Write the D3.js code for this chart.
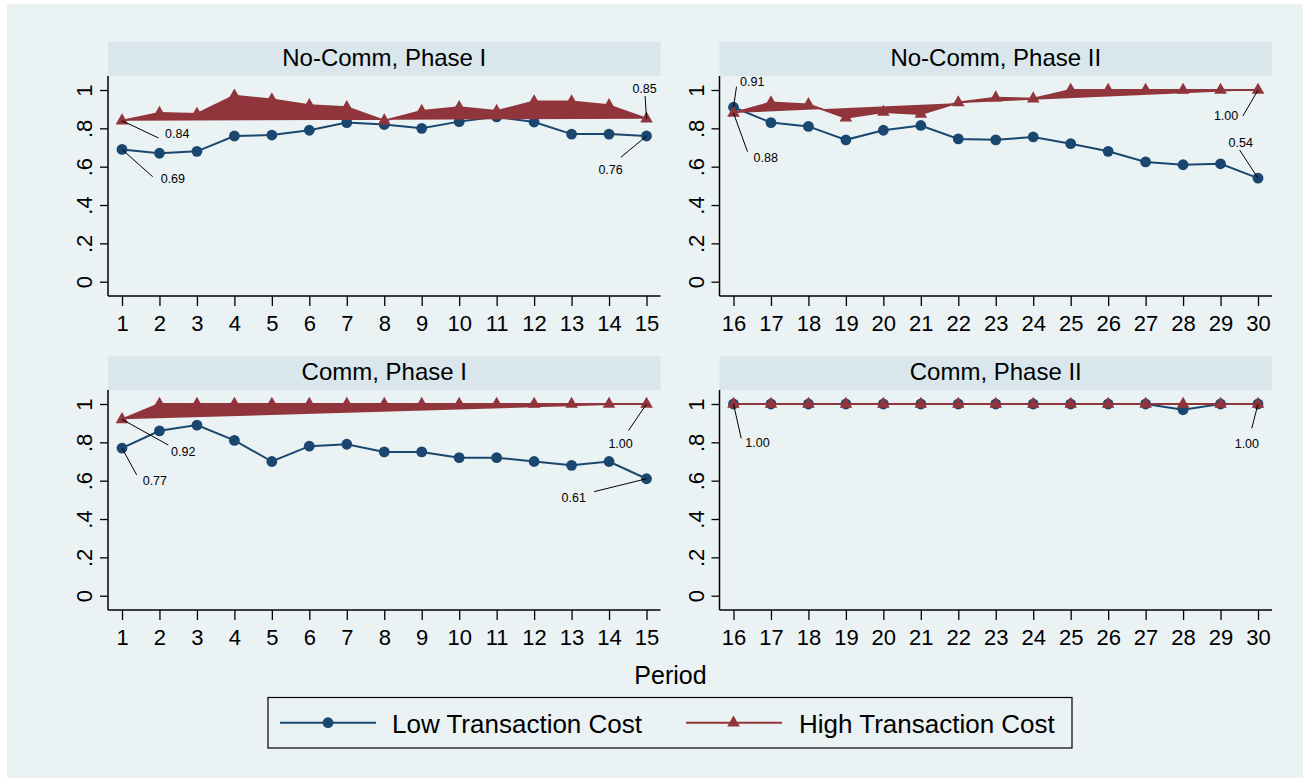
<!DOCTYPE html>
<html>
<head>
<meta charset="utf-8">
<script src="https://cdn.jsdelivr.net/npm/d3@7"></script>
<style>
  html, body { margin: 0; padding: 0; background: #ffffff; }
  svg { display: block; font-family: "Liberation Sans", Arial, Helvetica, sans-serif; }
</style>
</head>
<body>
<svg id="chart" width="1310" height="782"></svg>
<script>
// ---------------- DATA ----------------
const phaseIPeriods  = [1, 2, 3, 4, 5, 6, 7, 8, 9, 10, 11, 12, 13, 14, 15];
const phaseIIPeriods = [16, 17, 18, 19, 20, 21, 22, 23, 24, 25, 26, 27, 28, 29, 30];

const panelTitles = ["No-Comm, Phase I", "No-Comm, Phase II", "Comm, Phase I", "Comm, Phase II"];
const seriesNames = ["Low Transaction Cost", "High Transaction Cost"];

const noCommP1Low  = [0.69, 0.67, 0.68, 0.76, 0.765, 0.79, 0.83, 0.82, 0.80, 0.835, 0.86, 0.833, 0.77, 0.77, 0.76];
const noCommP1High = [0.84, 0.88, 0.875, 0.97, 0.95, 0.92, 0.91, 0.84, 0.89, 0.91, 0.89, 0.94, 0.94, 0.92, 0.85];

const noCommP2Low  = [0.91, 0.83, 0.81, 0.74, 0.79, 0.815, 0.745, 0.74, 0.755, 0.72, 0.68, 0.625, 0.61, 0.615, 0.54];
const noCommP2High = [0.88, 0.935, 0.925, 0.855, 0.885, 0.875, 0.935, 0.96, 0.955, 1.00, 1.00, 1.00, 1.00, 1.00, 1.00];

const commP1Low  = [0.77, 0.86, 0.89, 0.81, 0.70, 0.78, 0.79, 0.75, 0.75, 0.72, 0.72, 0.70, 0.68, 0.70, 0.61];
const commP1High = [0.92, 1.00, 1.00, 1.00, 1.00, 1.00, 1.00, 1.00, 1.00, 1.00, 1.00, 1.00, 1.00, 1.00, 1.00];

const commP2Low  = [1.00, 1.00, 1.00, 1.00, 1.00, 1.00, 1.00, 1.00, 1.00, 1.00, 1.00, 1.00, 0.97, 1.00, 1.00];
const commP2High = [1.00, 1.00, 1.00, 1.00, 1.00, 1.00, 1.00, 1.00, 1.00, 1.00, 1.00, 1.00, 1.00, 1.00, 1.00];

const yTickValues = [0, 0.2, 0.4, 0.6, 0.8, 1];
const yTickLabels = ["0", ".2", ".4", ".6", ".8", "1"];

const xAxisTitle = "Period";

// value labels: panel index, series (0 low / 1 high), point index, text
const valueLabels = [
  { panel: 0, series: 1, idx: 0,  text: "0.84" },
  { panel: 0, series: 0, idx: 0,  text: "0.69" },
  { panel: 0, series: 1, idx: 14, text: "0.85" },
  { panel: 0, series: 0, idx: 14, text: "0.76" },
  { panel: 1, series: 0, idx: 0,  text: "0.91" },
  { panel: 1, series: 1, idx: 0,  text: "0.88" },
  { panel: 1, series: 1, idx: 14, text: "1.00" },
  { panel: 1, series: 0, idx: 14, text: "0.54" },
  { panel: 2, series: 1, idx: 0,  text: "0.92" },
  { panel: 2, series: 0, idx: 0,  text: "0.77" },
  { panel: 2, series: 1, idx: 14, text: "1.00" },
  { panel: 2, series: 0, idx: 14, text: "0.61" },
  { panel: 3, series: 1, idx: 0,  text: "1.00" },
  { panel: 3, series: 1, idx: 14, text: "1.00" }
];

// ---------------- STYLE / LAYOUT ----------------
const BG = "#eaf2f3";
const STRIP = "#d9e6eb";
const BLUE = "#1a476f";
const RED = "#90353b";

// label offsets relative to the point (line end, text start/baseline)
const labelOffsets = [
  { lx: 36.5, ly: 17.3, tx: 43,    ty: 17.8 },
  { lx: 30.7, ly: 27.3, tx: 38.7,  ty: 33.3 },
  { lx: -1.4, ly: -22.8, tx: -14.1, ty: -26.1 },
  { lx: -25.7, ly: 21.3, tx: -48.1, ty: 38.3 },
  { lx: 3,    ly: -20.6, tx: 6.6,  ty: -21.6 },
  { lx: 14,   ly: 38.7, tx: 20,    ty: 48.7 },
  { lx: -15.1, ly: 26,  tx: -44.1, ty: 30 },
  { lx: -18.4, ly: -28.2, tx: -29.4, ty: -30.9 },
  { lx: 46.3, ly: 25.7, tx: 49,    ty: 36.4 },
  { lx: 14.7, ly: 26.9, tx: 20.7,  ty: 36.9 },
  { lx: -18.1, ly: 26.7, tx: -38.1, ty: 44.3 },
  { lx: -52.4, ly: 12.9, tx: -84.9, ty: 22.9 },
  { lx: 7.7,  ly: 34.3, tx: 11.8,  ty: 42.7 },
  { lx: -6.2, ly: 24.3, tx: -23.3, ty: 43.7 }
];

const colLeft = [108, 719.5];
const rowTop = [42, 356];
const panelW = 552.5;
const stripH = 34;
const plotH = 220;
const padX = 14;
const padTop = 14;
const padBottom = 14.3;

const panels = [
  { title: panelTitles[0], periods: phaseIPeriods,  low: noCommP1Low, high: noCommP1High, col: 0, row: 0 },
  { title: panelTitles[1], periods: phaseIIPeriods, low: noCommP2Low, high: noCommP2High, col: 1, row: 0 },
  { title: panelTitles[2], periods: phaseIPeriods,  low: commP1Low,   high: commP1High,   col: 0, row: 1 },
  { title: panelTitles[3], periods: phaseIIPeriods, low: commP2Low,   high: commP2High,   col: 1, row: 1 }
];

const svg = d3.select("#chart");

// outer graph region
svg.append("rect").attr("x", 7).attr("y", 4).attr("width", 1296).attr("height", 774).attr("fill", BG);

const triPath = "M0,-7.3 L6.3,3.8 L-6.3,3.8 Z";

panels.forEach((p, pi) => {
  const left = colLeft[p.col];
  const top = rowTop[p.row];
  const plotTop = top + stripH;
  const plotBottom = plotTop + plotH;
  const right = left + panelW;

  const x = d3.scaleLinear()
    .domain([p.periods[0], p.periods[p.periods.length - 1]])
    .range([left + padX, right - padX]);
  const y = d3.scaleLinear()
    .domain([0, 1])
    .range([plotBottom - padBottom, plotTop + padTop]);
  p.x = x; p.y = y;

  const g = svg.append("g");

  // strip
  g.append("rect").attr("x", left).attr("y", top).attr("width", panelW).attr("height", stripH).attr("fill", STRIP);
  g.append("text")
    .attr("x", (left + right) / 2).attr("y", top + 24)
    .attr("text-anchor", "middle").attr("font-size", 24).attr("fill", "#000")
    .text(p.title);

  // y axis
  const yAxis = d3.axisLeft(y).tickValues(yTickValues).tickSize(8)
    .tickFormat((d, i) => yTickLabels[i]);
  const ya = g.append("g").attr("transform", `translate(${left},0)`).call(yAxis);
  ya.select(".domain").attr("d", `M0,${plotTop}V${plotBottom}`).attr("stroke", "#000").attr("stroke-width", 1.5);
  ya.selectAll(".tick line").attr("stroke", "#000").attr("stroke-width", 1.3);
  ya.selectAll(".tick text")
    .attr("font-size", 22).attr("font-family", "Liberation Sans, Arial, sans-serif").attr("fill", "#000")
    .attr("x", null).attr("dy", null)
    .attr("text-anchor", "middle")
    .attr("transform", "translate(-16,0) rotate(-90)");

  // x axis
  const xAxis = d3.axisBottom(x).tickValues(p.periods).tickSize(10).tickFormat(d3.format("d"));
  const xa = g.append("g").attr("transform", `translate(0,${plotBottom})`).call(xAxis);
  xa.select(".domain").attr("d", `M${left},0H${right}`).attr("stroke", "#000").attr("stroke-width", 1.5);
  xa.selectAll(".tick line").attr("stroke", "#000").attr("stroke-width", 1.3);
  xa.selectAll(".tick text")
    .attr("font-size", 22).attr("font-family", "Liberation Sans, Arial, sans-serif").attr("fill", "#000")
    .attr("y", 34.5).attr("dy", null);

  // low series
  const lineGen = d3.line().x((d, i) => x(p.periods[i])).y(d => y(d));
  g.append("path").datum(p.low).attr("d", lineGen)
    .attr("fill", "none").attr("stroke", BLUE).attr("stroke-width", 2);
  g.selectAll("circle.low").data(p.low).enter().append("circle")
    .attr("cx", (d, i) => x(p.periods[i])).attr("cy", d => y(d)).attr("r", 5.4).attr("fill", BLUE);

  // high series (filled polyline, as in the original)
  g.append("path").datum(p.high).attr("d", lineGen)
    .attr("fill", RED).attr("stroke", RED).attr("stroke-width", 2).attr("stroke-linejoin", "round");
  g.selectAll("path.high").data(p.high).enter().append("path")
    .attr("class", "high")
    .attr("d", triPath)
    .attr("transform", (d, i) => `translate(${x(p.periods[i])},${y(d)})`)
    .attr("fill", RED);
});

// value labels
valueLabels.forEach((lab, li) => {
  const p = panels[lab.panel];
  const vals = lab.series === 0 ? p.low : p.high;
  const px = p.x(p.periods[lab.idx]);
  const py = p.y(vals[lab.idx]);
  const o = labelOffsets[li];
  svg.append("line")
    .attr("x1", px).attr("y1", py).attr("x2", px + o.lx).attr("y2", py + o.ly)
    .attr("stroke", "#000").attr("stroke-width", 1);
  svg.append("text")
    .attr("x", px + o.tx).attr("y", py + o.ty)
    .attr("font-size", 12.5).attr("fill", "#000")
    .text(lab.text);
});

// x axis title
svg.append("text").attr("x", 670.5).attr("y", 683.5)
  .attr("text-anchor", "middle").attr("font-size", 25).attr("fill", "#000")
  .text(xAxisTitle);

// legend
const lg = svg.append("g");
lg.append("rect").attr("x", 268).attr("y", 697.5).attr("width", 804).attr("height", 50.5)
  .attr("fill", BG).attr("stroke", "#000").attr("stroke-width", 1.2);
const legendY = 722.7;
lg.append("line").attr("x1", 280).attr("x2", 376).attr("y1", legendY).attr("y2", legendY)
  .attr("stroke", BLUE).attr("stroke-width", 2);
lg.append("circle").attr("cx", 328).attr("cy", legendY).attr("r", 5.4).attr("fill", BLUE);
lg.append("text").attr("x", 392).attr("y", 732.5).attr("font-size", 26).attr("fill", "#000").text(seriesNames[0]);
lg.append("line").attr("x1", 686).attr("x2", 782).attr("y1", legendY).attr("y2", legendY)
  .attr("stroke", RED).attr("stroke-width", 2);
lg.append("path").attr("d", triPath).attr("transform", `translate(733.5,${legendY})`).attr("fill", RED);
lg.append("text").attr("x", 799).attr("y", 732.5).attr("font-size", 26).attr("fill", "#000").text(seriesNames[1]);
</script>
</body>
</html>
